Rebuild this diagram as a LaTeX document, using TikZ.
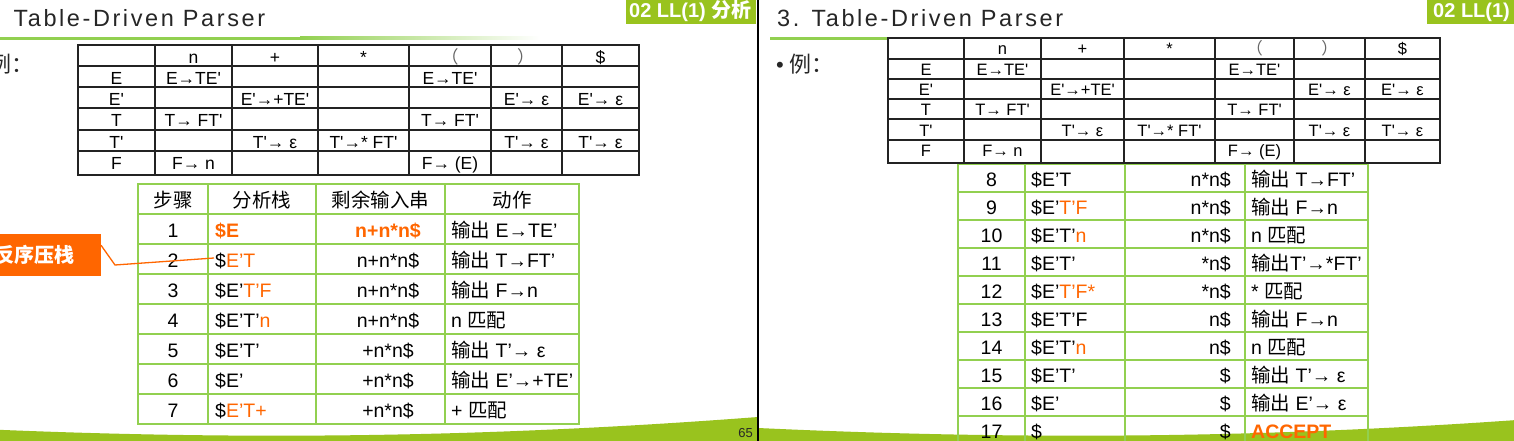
\documentclass[tikz,border=0pt]{standalone}
\usepackage{fontspec}
\setmainfont{Liberation Sans}[Ligatures=TeXOff]
\newfontfamily\cjkfam{Noto Sans CJK SC}
\newfontfamily\titlefam{Liberation Sans}[LetterSpace=11,Ligatures=TeXOff]
\newcommand{\zhtxt}[1]{{\cjkfam #1}}
\definecolor{orng}{RGB}{255,102,0}
\newcommand{\ortxt}[1]{\textcolor{orng}{#1}}
\definecolor{tgreen}{RGB}{146,208,80}
\definecolor{bandgreen}{RGB}{153,195,30}
\definecolor{titlecol}{RGB}{38,38,38}
\definecolor{tlinecol}{RGB}{35,35,35}
\newcommand{\fwparen}[1]{\textcolor{black!60}{\zhtxt{#1}}}
\newcommand{\setcols}[7]{\def\colA{#1}\def\colB{#2}\def\colC{#3}\def\colD{#4}\def\colE{#5}\def\colF{#6}\def\colG{#7}}
\newcommand{\trow}[9]{%
  \node[cell] (#1-1) at (\colA,#2) {#3};
  \node[cell] (#1-2) at (\colB,#2) {#4};
  \node[cell] (#1-3) at (\colC,#2) {#5};
  \node[cell] (#1-4) at (\colD,#2) {#6};
  \node[cell] (#1-5) at (\colE,#2) {#7};
  \node[cell] (#1-6) at (\colF,#2) {#8};
  \node[cell] (#1-7) at (\colG,#2) {#9};}
\tikzset{
  cell/.style={anchor=base,inner sep=0pt},
  gcell/.style={anchor=base,inner sep=0pt},
  gleft/.style={anchor=base west,inner sep=0pt},
  gright/.style={anchor=base east,inner sep=0pt},
  tline/.style={draw=tlinecol,line width=1.2pt,line cap=rect},
  gline/.style={draw=tgreen,line width=2pt,line cap=rect},
  titletext/.style={anchor=base west,inner sep=0pt,text=titlecol,font=\fontsize{23.5}{26}\titlefam},
  badgetext/.style={anchor=base west,inner sep=0pt,text=white,font=\fontsize{20}{22}\selectfont\bfseries},
  exampletext/.style={anchor=base west,inner sep=0pt,text=titlecol,font=\fontsize{22}{24}\selectfont},
}
\begin{document}
\begin{tikzpicture}[x=1pt,y=-1pt]
\useasboundingbox (0,0) rectangle (1514,441);
\clip (0,0) rectangle (1514,441);
\fill[white] (0,0) rectangle (1514,441);

% bottom bands
\fill[bandgreen] (-42,428) .. controls (258,442) and (508,436) .. (758,417) -- (758,450) -- (-42,450) -- cycle;
\fill[bandgreen] (758,428) .. controls (1058,442) and (1308,436) .. (1558,417) -- (1558,450) -- (758,450) -- cycle;

% title underlines
\fill[tgreen] (-30,37) rectangle (300,40);
\shade[left color=tgreen,right color=white] (300,37) rectangle (540,40);
\fill[tgreen] (770,37.5) rectangle (1100,40);
\shade[left color=tgreen,right color=white] (1100,37.5) rectangle (1340,40);

% titles
\node[titletext] (titleL) at (-21,27) {3. Table-Driven Parser};
\node[titletext] (titleR) at (777,27) {3. Table-Driven Parser};

% badges
\node[fill=bandgreen,anchor=north west,minimum width=130pt,minimum height=24pt,inner sep=0pt] (badgeL) at (626,0) {};
\node[badgetext] (badgeLt) at (629,17.5) {02 LL(1) \zhtxt{分析}};
\node[fill=bandgreen,anchor=north west,minimum width=130pt,minimum height=24pt,inner sep=0pt] (badgeR) at (1427,0) {};
\node[badgetext] (badgeRt) at (1433,17.5) {02 LL(1) \zhtxt{分析}};

% example labels
\node[exampletext] (exL) at (-24,73) {•\hspace{6pt}\zhtxt{例：}};
\node[exampletext] (exR) at (776,73) {•\hspace{6pt}\zhtxt{例：}};

% ---------- left parsing table ----------
\fill[white] (78,45) rectangle (639,175);
\foreach \x in {78,155,232,318,409,491,562,639} \draw[tline] (\x,45) -- (\x,175);
\foreach \y in {45,66,87,108,130,151,175} \draw[tline] (78,\y) -- (639,\y);
\begin{scope}[font=\fontsize{17.5}{20}\selectfont]
\setcols{116.5}{193.5}{275}{363.5}{450}{526.5}{600.5}
\trow{LH}{63.5}{}{n}{+}{*}{\fwparen{（}}{\fwparen{）}}{\$}
\trow{LE}{84.5}{E}{E→TE'}{}{}{E→TE'}{}{}
\trow{LEp}{105.5}{E'}{}{E'→+TE'}{}{}{E'→ ε}{E'→ ε}
\trow{LT}{126.5}{T}{T→ FT'}{}{}{T→ FT'}{}{}
\trow{LTp}{148.5}{T'}{}{T'→ ε}{T'→* FT'}{}{T'→ ε}{T'→ ε}
\trow{LF}{169.5}{F}{F→ n}{}{}{F→ (E)}{}{}
\end{scope}

% ---------- left trace table ----------
\foreach \x in {138,208,316,445,579} \draw[gline] (\x,184) -- (\x,424);
\foreach \y in {184,214,244,274,304,334,364,394,424} \draw[gline] (138,\y) -- (579,\y);
\begin{scope}[font=\fontsize{19.5}{22}\selectfont]
\node[gcell] (LHs) at (173,207) {\zhtxt{步骤}};
\node[gcell] (LHst) at (262,207) {\zhtxt{分析栈}};
\node[gcell] (LHin) at (380.5,207) {\zhtxt{剩余输入串}};
\node[gcell] (LHac) at (512,207) {\zhtxt{动作}};
\foreach [count=\k from 0] \s/\st/\inp/\act in {
  1/{\ortxt{\bfseries\$E}}/{\ortxt{\bfseries n+n*n\$}}/{\zhtxt{输出} E→TE’},
  2/{\$\ortxt{E’T}}/{n+n*n\$}/{\zhtxt{输出} T→FT’},
  3/{\$E’\ortxt{T’F}}/{n+n*n\$}/{\zhtxt{输出} F→n},
  4/{\$E’T’\ortxt{n}}/{n+n*n\$}/{n \zhtxt{匹配}},
  5/{\$E’T’}/{+n*n\$}/{\zhtxt{输出} T’→ ε},
  6/{\$E’}/{+n*n\$}/{\zhtxt{输出} E’→+TE’},
  7/{\$\ortxt{E’T+}}/{+n*n\$}/{+ \zhtxt{匹配}}}{
  \node[gcell] (Ls\s) at (173,{237+30*\k}) {\s};
  \node[gleft] (Lst\s) at (215,{237+30*\k}) {\st};
  \node[gcell] (Lin\s) at (388,{237+30*\k}) {\inp};
  \node[gleft] (Lac\s) at (451,{237+30*\k}) {\act};
}
\end{scope}

% callout
\node[fill=orng,anchor=north east,minimum width=120pt,minimum height=42pt,inner sep=0pt] (callout) at (101,234) {};
\node[anchor=base east,inner sep=0pt,text=white,font=\fontsize{20}{22}\selectfont\bfseries] (callouttext) at (75,262) {\zhtxt{反序压栈}};
\coordinate (cbend) at (115,265);
\coordinate (ctip) at (214,258);
\draw[orng,line width=1.3pt] ([yshift=10pt]callout.east) -- (cbend) -- (ctip);

% ---------- right trace table (continued) ----------
\foreach \x in {958,1025,1125,1245,1368} \draw[gline] (\x,164) -- (\x,446);
\foreach \y in {164,192,220,248,276,304,332,360,388,416} \draw[gline] (958,\y) -- (1368,\y);
\begin{scope}[font=\fontsize{19.5}{22}\selectfont]
\foreach [count=\k from 0] \s/\st/\inp/\act in {
  8/{\$E’T}/{n*n\$}/{\zhtxt{输出} T→FT’},
  9/{\$E’\ortxt{T’F}}/{n*n\$}/{\zhtxt{输出} F→n},
  10/{\$E’T’\ortxt{n}}/{n*n\$}/{n \zhtxt{匹配}},
  11/{\$E’T’}/{*n\$}/{\zhtxt{输出}T’→*FT’},
  12/{\$E’\ortxt{T’F*}}/{*n\$}/{* \zhtxt{匹配}},
  13/{\$E’T’F}/{n\$}/{\zhtxt{输出} F→n},
  14/{\$E’T’\ortxt{n}}/{n\$}/{n \zhtxt{匹配}},
  15/{\$E’T’}/{\$}/{\zhtxt{输出} T’→ ε},
  16/{\$E’}/{\$}/{\zhtxt{输出} E’→ ε},
  17/{\$}/{\$}/{\ortxt{\bfseries ACCEPT}}}{
  \node[gcell] (Rs\s) at (991.5,{186.5+28*\k}) {\s};
  \node[gleft] (Rst\s) at (1031,{186.5+28*\k}) {\st};
  \node[gright] (Rin\s) at (1231,{186.5+28*\k}) {\inp};
  \node[gleft] (Rac\s) at (1251,{186.5+28*\k}) {\act};
}
\end{scope}

% ---------- right parsing table ----------
\fill[white] (888,38) rectangle (1440,163);
\foreach \x in {888,964,1041,1124,1215,1294,1365,1440} \draw[tline] (\x,38) -- (\x,163);
\foreach \y in {38,59,79,99,119,140,163} \draw[tline] (888,\y) -- (1440,\y);
\begin{scope}[font=\fontsize{16.5}{19}\selectfont]
\setcols{926}{1002.5}{1082.5}{1169.5}{1254.5}{1329.5}{1402.5}
\trow{RH}{55}{}{n}{+}{*}{\fwparen{（}}{\fwparen{）}}{\$}
\trow{RE}{76}{E}{E→TE'}{}{}{E→TE'}{}{}
\trow{REp}{96}{E'}{}{E'→+TE'}{}{}{E'→ ε}{E'→ ε}
\trow{RT}{116}{T}{T→ FT'}{}{}{T→ FT'}{}{}
\trow{RTp}{136}{T'}{}{T'→ ε}{T'→* FT'}{}{T'→ ε}{T'→ ε}
\trow{RF}{157}{F}{F→ n}{}{}{F→ (E)}{}{}
\end{scope}

% slide divider and page number
\draw[black,line width=1.5pt] (758,0) -- (758,441);
\node[anchor=base east,inner sep=0pt,font=\fontsize{13}{15}\selectfont,text=black!85] (pagenum) at (753,437) {65};
\end{tikzpicture}
\end{document}
